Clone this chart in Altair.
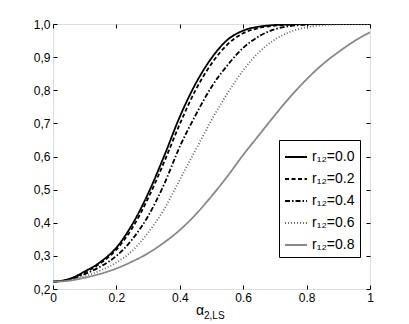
import altair as alt
import pandas as pd

x_vals = [0, 0.05, 0.10, 0.15, 0.20, 0.25, 0.30, 0.35, 0.40, 0.45, 0.50,
          0.55, 0.60, 0.65, 0.70, 0.75, 0.80, 0.85, 0.90, 0.95, 1.0]

r_labels = ["0.0", "0.2", "0.4", "0.6", "0.8"]

y_r00 = [0.222, 0.230, 0.253, 0.282, 0.325, 0.395, 0.488, 0.600, 0.720, 0.820, 0.897,
         0.952, 0.980, 0.992, 0.997, 0.999, 1.0, 1.0, 1.0, 1.0, 1.0]
y_r02 = [0.222, 0.229, 0.250, 0.278, 0.319, 0.384, 0.474, 0.582, 0.698, 0.801, 0.880,
         0.938, 0.972, 0.988, 0.995, 0.998, 1.0, 1.0, 1.0, 1.0, 1.0]
y_r04 = [0.222, 0.228, 0.245, 0.268, 0.300, 0.350, 0.420, 0.515, 0.630, 0.725, 0.810,
         0.875, 0.928, 0.963, 0.984, 0.994, 0.998, 1.0, 1.0, 1.0, 1.0]
y_r06 = [0.222, 0.226, 0.238, 0.256, 0.280, 0.315, 0.370, 0.440, 0.530, 0.620, 0.710,
         0.790, 0.860, 0.915, 0.953, 0.977, 0.990, 0.996, 0.999, 1.0, 1.0]
y_r08 = [0.222, 0.225, 0.234, 0.246, 0.262, 0.283, 0.308, 0.340, 0.378, 0.425, 0.480,
         0.540, 0.605, 0.665, 0.725, 0.782, 0.833, 0.878, 0.915, 0.948, 0.975]

series = [y_r00, y_r02, y_r04, y_r06, y_r08]
colors = ["#000000", "#000000", "#000000", "#666666", "#888888"]
dashes = [[1, 0], [4, 2.5], [5, 2, 1.5, 2], [1, 2], [1, 0]]
widths = [1.8, 1.8, 1.5, 1.0, 1.6]

x_ticks = [0, 0.2, 0.4, 0.6, 0.8, 1]
y_ticks = [0.2, 0.3, 0.4, 0.5, 0.6, 0.7, 0.8, 0.9, 1.0]

rows = []
for lab, ys in zip(r_labels, series):
    for xv, yv in zip(x_vals, ys):
        rows.append({"x": xv, "y": yv, "r": lab})
df = pd.DataFrame(rows)

FONT = "Liberation Sans"
W, H = 317, 265

xscale = alt.Scale(domain=[0, 1], nice=False, zero=False)
yscale = alt.Scale(domain=[0.2, 1.0], nice=False, zero=False)

legend = alt.Legend(
    title=None, orient="none", legendX=226, legendY=116,
    strokeColor="#000000", fillColor="#ffffff", padding=5,
    symbolType="stroke", symbolSize=480, labelFont=FONT, labelFontSize=14,
    labelColor="#000000", rowPadding=3,
    labelExpr="'r\u2081\u2082=' + datum.label",
)

lines = alt.Chart(df).mark_line(interpolate="monotone", clip=True).encode(
    x=alt.X("x:Q", scale=xscale, title=None,
            axis=alt.Axis(values=x_ticks, format="~g", domain=False, grid=False,
                          tickSize=4, offset=-4, tickColor="#000000",
                          labelFont=FONT, labelFontSize=12, labelColor="#000000",
                          labelPadding=3, labelFlush=False)),
    y=alt.Y("y:Q", scale=yscale, title=None,
            axis=alt.Axis(values=y_ticks, domain=False, grid=False,
                          tickSize=4, offset=-4, tickColor="#000000",
                          labelExpr="replace(format(datum.value, '.1f'), '.', ',')",
                          labelFont=FONT, labelFontSize=12, labelColor="#000000",
                          labelPadding=3)),
    color=alt.Color("r:N", scale=alt.Scale(domain=r_labels, range=colors), legend=legend),
    strokeDash=alt.StrokeDash("r:N", scale=alt.Scale(domain=r_labels, range=dashes), legend=legend),
    strokeWidth=alt.StrokeWidth("r:N", scale=alt.Scale(domain=r_labels, range=widths), legend=legend),
)

frame_axes = alt.Chart(df).mark_line(opacity=0).encode(
    x=alt.X("x:Q", scale=xscale, title=None,
            axis=alt.Axis(orient="top", values=x_ticks, labels=False, domain=False,
                          grid=False, tickSize=4, offset=-4, tickColor="#000000")),
    y=alt.Y("y:Q", scale=yscale, title=None,
            axis=alt.Axis(orient="right", values=y_ticks, labels=False, domain=False,
                          grid=False, tickSize=4, offset=-4, tickColor="#000000")),
)

title_main = alt.Chart(pd.DataFrame({"t": ["\u03b1"]})).mark_text(
    font=FONT, fontSize=14, align="left", baseline="alphabetic", color="#000000"
).encode(x=alt.value(143), y=alt.value(291), text="t:N")

title_sub = alt.Chart(pd.DataFrame({"t": ["2,LS"]})).mark_text(
    font=FONT, fontSize=10, align="left", baseline="alphabetic", color="#000000"
).encode(x=alt.value(151), y=alt.value(295), text="t:N")

chart = alt.layer(lines, frame_axes, title_main, title_sub).resolve_axis(
    x="independent", y="independent"
).properties(
    width=W, height=H,
    autosize=alt.AutoSizeParams(type="none"),
    padding={"left": 45, "top": 16, "right": 30, "bottom": 35},
).configure_view(stroke="#000000", strokeWidth=1).configure(background="#ffffff")

chart.save("out.html", embed_options={"renderer": "svg", "actions": False})
